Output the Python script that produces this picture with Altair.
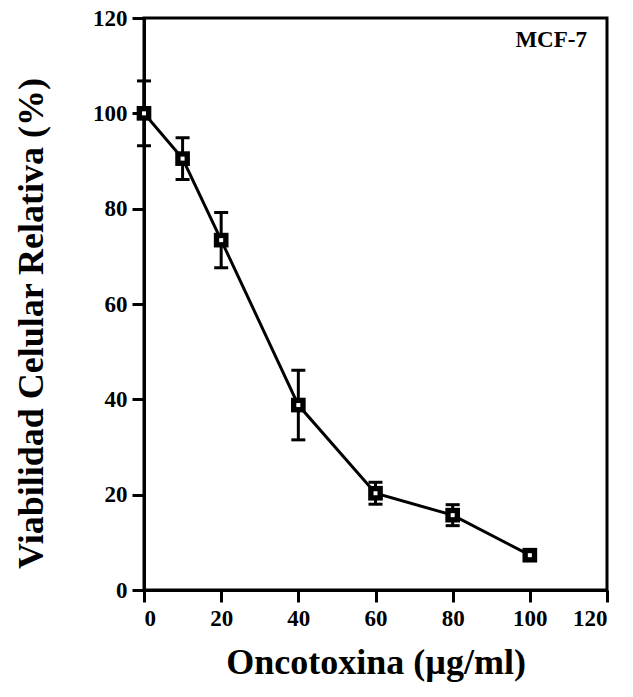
import altair as alt
import pandas as pd

# Dose-response of MCF-7 cells to oncotoxin
dose = [0, 10, 20, 40, 60, 80, 100]
viability = [100, 90.5, 73.4, 38.8, 20.3, 15.7, 7.3]
sd = [6.8, 4.4, 5.8, 7.3, 2.3, 2.2, 0]

df = pd.DataFrame({"dose": dose, "v": viability, "sd": sd})
df["lo"] = df["v"] - df["sd"]
df["hi"] = df["v"] + df["sd"]
err = df[df["sd"] > 0]

cell_line = ["MCF-7"]
label_pos_x = [114.8]
label_pos_y = [115.3]
lab = pd.DataFrame({"t": cell_line, "x": label_pos_x, "y": label_pos_y})

FONT = "Liberation Serif"
ticks = [0, 20, 40, 60, 80, 100, 120]

axis_style = dict(
    domainColor="black", domainWidth=3, tickColor="black", tickWidth=3, tickSize=12,
    grid=False, labelFont=FONT, labelFontWeight="bold", labelFontSize=23,
    labelColor="black", titleFont=FONT, titleFontWeight="bold", titleColor="black",
    titleFontSize=36,
)

x = alt.X("dose:Q", scale=alt.Scale(domain=[0, 120], nice=False),
          axis=alt.Axis(values=ticks, title="Oncotoxina (µg/ml)",
                        labelPadding=5, titlePadding=15, **axis_style))
y = alt.Y("v:Q", scale=alt.Scale(domain=[0, 120], nice=False),
          axis=alt.Axis(values=ticks, title="Viabilidad Celular Relativa (%)",
                        titleY=305, labelPadding=5, titlePadding=42, **axis_style))

line = alt.Chart(df).mark_line(color="black", strokeWidth=3).encode(x=x, y=y)

bars = alt.Chart(err).mark_rule(color="black", strokeWidth=3, opacity=1).encode(
    x="dose:Q", y="lo:Q", y2="hi:Q")
cap_hi = alt.Chart(err).mark_tick(color="black", thickness=3, size=14, opacity=1,
                                  orient="horizontal").encode(x="dose:Q", y="hi:Q")
cap_lo = alt.Chart(err).mark_tick(color="black", thickness=3, size=14, opacity=1,
                                  orient="horizontal").encode(x="dose:Q", y="lo:Q")

outer = alt.Chart(df).mark_square(color="black", opacity=1, size=215).encode(x="dose:Q", y="v:Q")
inner = alt.Chart(df).mark_square(color="white", opacity=1, size=16).encode(x="dose:Q", y="v:Q")

text = alt.Chart(lab).mark_text(font=FONT, fontWeight="bold", fontSize=23,
                                align="right", baseline="middle", color="black").encode(
    x="x:Q", y="y:Q", text="t:N")

chart = (line + bars + cap_hi + cap_lo + outer + inner + text).properties(
    width=463, height=572,
    autosize=alt.AutoSizeParams(type="none"),
    padding={"left": 144, "top": 18, "right": 26, "bottom": 107},
    background="white",
).configure_view(stroke="black", strokeWidth=3)

chart.save("out.html", embed_options={"renderer": "svg", "actions": False})
